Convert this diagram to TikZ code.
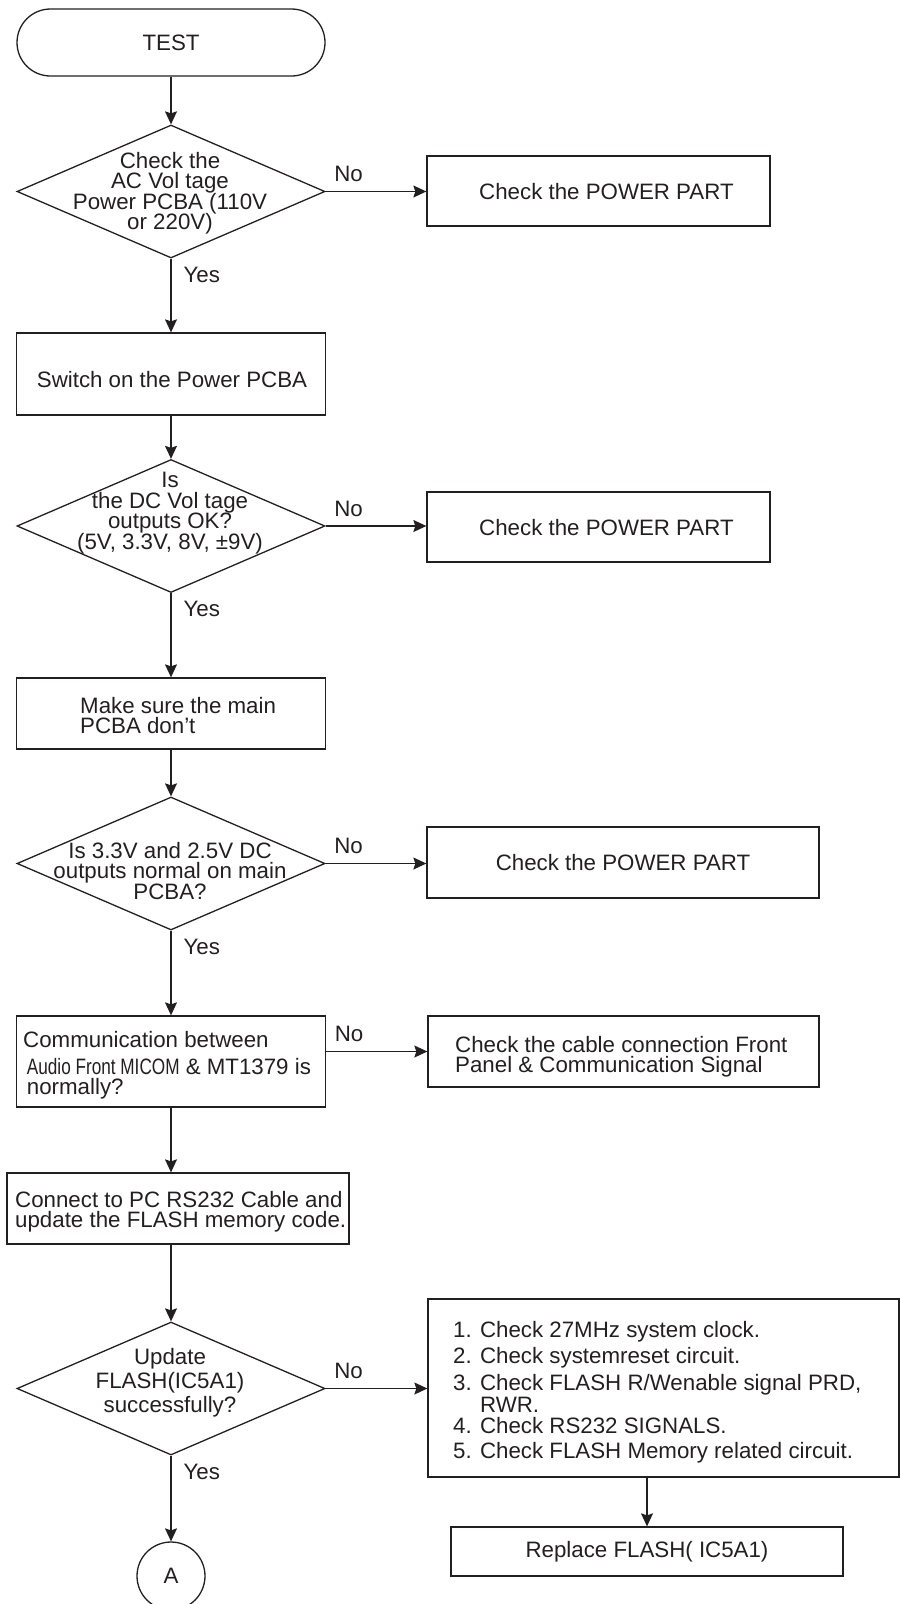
\documentclass[tikz,border=0pt]{standalone}
\usepackage{fontspec}
\setmainfont{Liberation Sans}
\usepackage{graphicx}
\usetikzlibrary{shapes.geometric,arrows.meta}
\definecolor{ink}{RGB}{35,31,32}
\setlength{\lineskiplimit}{-30pt}

\begin{document}
\begin{tikzpicture}
  [x=1pt,y=-1pt]
      \tikzstyle{box_style} = [draw=ink, line width=1.3pt, rectangle, inner sep=0pt]
      \tikzstyle{dec_style} = [draw=ink, line width=1.3pt, diamond, minimum width=308pt, minimum height=133pt, inner sep=0pt]
      \tikzstyle{txt_style} = [text=ink, inner sep=0pt, font=\fontsize{22.3}{20.5}\selectfont]
      \tikzstyle{edge_style} = [draw=ink, line width=1.2pt, -{Stealth[length=13pt,width=12pt,inset=2pt]}]
      \tikzstyle{no_style} = [txt_style, at start, anchor=base west, xshift=8pt, yshift=10pt]
      \tikzstyle{yes_style} = [txt_style, at start, anchor=base west, xshift=12pt, yshift=-23.5pt]
  \useasboundingbox (0,0) rectangle (900,1604);

  % left column
  \node[box_style, rounded corners=33.5pt, minimum width=308pt, minimum height=67pt, txt_style] (test) at (171,42.5) {TEST};
  \node[dec_style] (d1) at (171,191.5) {};
  \node[txt_style, align=center, anchor=north] (d1_t) at (170,152) {Check the\\AC Vol tage\\Power PCBA (110V\\or 220V)};
  \node[box_style, minimum width=309pt, minimum height=82pt] (sw) at (171,374) {};
  \node[txt_style, anchor=base] (sw_t) at (172,387) {Switch on the Power PCBA};
  \node[dec_style] (d2) at (171,526) {};
  \node[txt_style, align=center, anchor=north] (d2_t) at (170,472) {Is\\the DC Vol tage\\outputs OK?\\(5V, 3.3V, 8V, ±9V)};
  \node[box_style, minimum width=309pt, minimum height=71pt] (make) at (171,713.5) {};
  \node[txt_style, align=left, anchor=north west] (make_t) at (80,697) {Make sure the main\\PCBA don’t};
  \node[dec_style] (d3) at (171,863.5) {};
  \node[txt_style, align=center, anchor=north] (d3_t) at (170,842) {Is 3.3V and 2.5V DC\\outputs normal on main\\PCBA?};
  \node[box_style, minimum width=309pt, minimum height=91pt] (comm) at (171,1061.5) {};
  \node[txt_style, align=left, anchor=north west] (comm_t) at (23,1031) {Communication between\\[6.5pt]\,\scalebox{0.77}[1]{Audio Front MICOM} \& MT1379 is\\\,normally?};
  \node[box_style, minimum width=342pt, minimum height=71pt] (con) at (178,1208.5) {};
  \node[txt_style, align=left, anchor=north west] (con_t) at (15,1191) {Connect to PC RS232 Cable and\\update the FLASH memory code.};
  \node[dec_style] (d4) at (171,1388.5) {};
  \node[txt_style, align=center, anchor=north, font=\fontsize{22.3}{24}\selectfont] (d4_t) at (170,1348) {Update\\FLASH(IC5A1)\\successfully?};
  \node[draw=ink, line width=1.3pt, circle, minimum size=68pt, inner sep=0pt, txt_style] (a) at (171,1576) {A};

  % right column
  \node[box_style, minimum width=343pt, minimum height=70pt] (p1) at (598.5,191) {};
  \node[txt_style, anchor=base west] (p1_t) at (479,199) {Check the POWER PART};
  \node[box_style, minimum width=343pt, minimum height=70pt] (p2) at (598.5,527) {};
  \node[txt_style, anchor=base west] (p2_t) at (479,535) {Check the POWER PART};
  \node[box_style, minimum width=392pt, minimum height=71pt, txt_style] (p3) at (623,862.5) {Check the POWER PART};
  \node[box_style, minimum width=391pt, minimum height=71pt] (cab) at (623.5,1051.5) {};
  \node[txt_style, align=left, anchor=north west] (cab_t) at (455,1036) {Check the cable connection Front\\Panel \& Communication Signal};
  \node[box_style, minimum width=471pt, minimum height=178pt] (list) at (663.5,1388) {};
  \node[txt_style, align=left, anchor=north west] (list_t) at (453,1321) {1. Check 27MHz system clock.\\[5.5pt]2. Check systemreset circuit.\\[6.5pt]3. Check FLASH R/Wenable signal PRD,\\[1.5pt]\phantom{3. }RWR.\\[0.5pt]4. Check RS232 SIGNALS.\\[4.5pt]5. Check FLASH Memory related circuit.};
  \node[box_style, minimum width=392pt, minimum height=49pt, txt_style] (rep) at (647,1551.5) {Replace FLASH( IC5A1)};

  \draw[edge_style] (test) -- (d1);
  \draw[edge_style] (d1) -- node[yes_style] (yes1) {Yes} (sw);
  \draw[edge_style] (sw) -- (d2);
  \draw[edge_style] (d2) -- node[yes_style] (yes2) {Yes} (make);
  \draw[edge_style] (make) -- (d3);
  \draw[edge_style] (d3) -- node[yes_style] (yes3) {Yes} (comm);
  \draw[edge_style] (comm.south) -- (comm.south |- con.north);
  \draw[edge_style] (con.south -| d4.north) -- (d4.north);
  \draw[edge_style] (d4) -- node[yes_style] (yes4) {Yes} (a);
  \draw[edge_style] (d1.east) -- node[no_style] (no1) {No} (d1.east -| p1.west);
  \draw[edge_style] (d2.east) -- node[no_style] (no2) {No} (d2.east -| p2.west);
  \draw[edge_style] (d3.east) -- node[no_style] (no3) {No} (d3.east -| p3.west);
  \draw[edge_style] (comm.east |- cab.west) -- node[no_style] (no4) {No} (cab.west);
  \draw[edge_style] (d4.east) -- node[no_style] (no5) {No} (d4.east -| list.west);
  \draw[edge_style] (list.south -| rep.north) -- (rep.north);
\end{tikzpicture}
\end{document}
